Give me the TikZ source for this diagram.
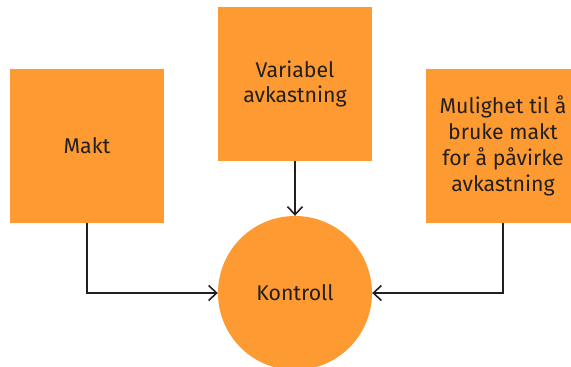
\documentclass[tikz,border=0pt]{standalone}
\usepackage{fontspec}
\setmainfont{Fira Sans}
\usepackage{xcolor}
\usetikzlibrary{arrows.meta}
\definecolor{oransje}{RGB}{253,154,49}
\definecolor{mork}{RGB}{35,31,32}

\begin{document}
\begin{tikzpicture}[x=1pt,y=-1pt,
        boks/.style={fill=oransje, text=mork, align=center, inner sep=0pt,
            minimum width=154pt, minimum height=154pt,
            font=\fontsize{21.3}{25.8}\selectfont},
        pil/.style={-{Straight Barb[length=8pt,width=15pt]}, line width=1.6pt, draw=mork}]
        \path[use as bounding box, clip] (0,0) rectangle (571,367);
        \node[boks] (makt) at (87,146) {Makt};
        \node[boks] (variabel) at (295,84) {Variabel\\avkastning};
        \node[boks] (mulighet) at (503,146) {Mulighet til å\\bruke makt\\for å påvirke\\avkastning};
        \node[boks, circle, minimum size=154pt] (kontroll) at (295,293) {Kontroll};
        \draw[pil] (makt.south) |- (kontroll.west);
        \draw[pil] (variabel.south) -- (kontroll.north);
        \draw[pil] (mulighet.south) |- (kontroll.east);
    \end{tikzpicture}
\end{document}
